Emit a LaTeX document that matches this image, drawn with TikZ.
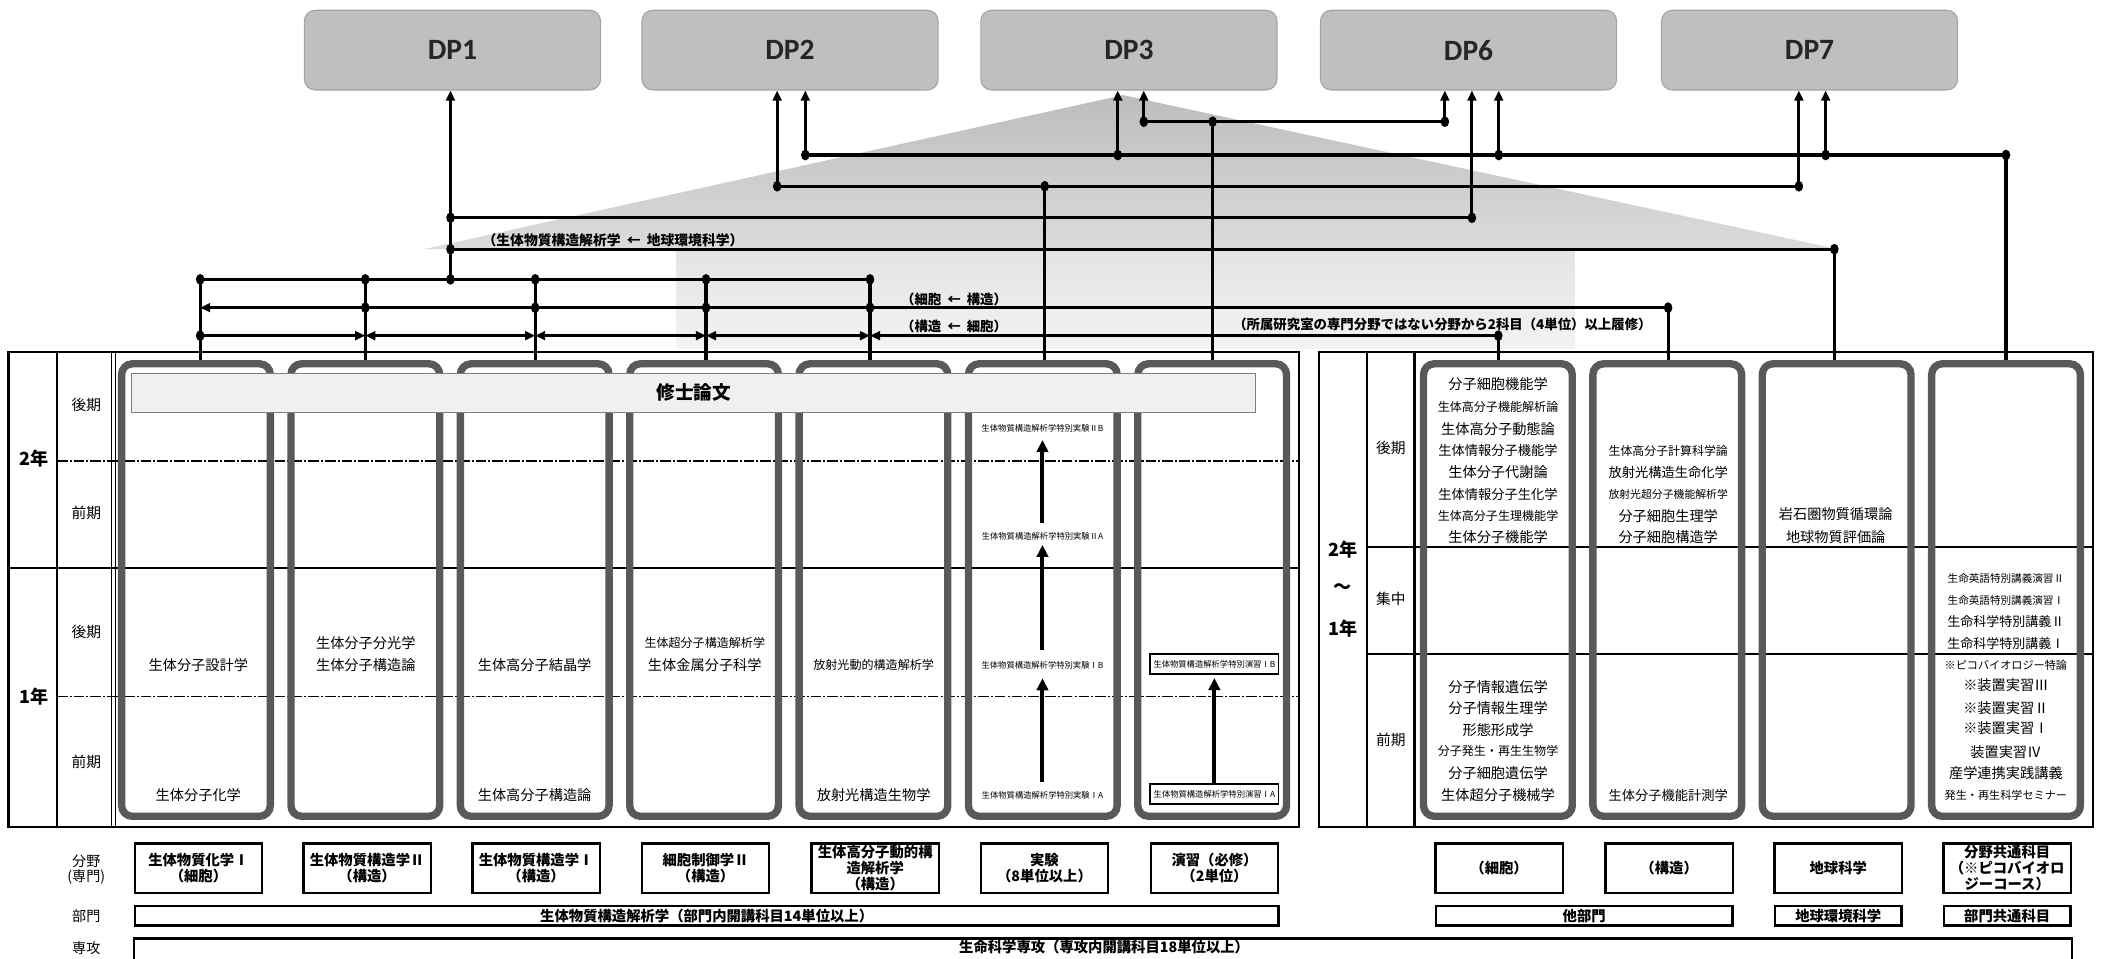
\documentclass[tikz,border=0pt]{standalone}
\usepackage{fontspec}
\setmainfont{Carlito}
\newfontfamily\jp{Noto Sans CJK JP}
\usetikzlibrary{arrows.meta}
\definecolor{dpgray}{HTML}{BFBFBF}
\definecolor{dpedge}{HTML}{A3A3A3}
\definecolor{colgray}{HTML}{595959}
\definecolor{barfill}{HTML}{F0F0F0}
\definecolor{baredge}{HTML}{7F7F7F}
\definecolor{triTop}{HTML}{BDBDBD}
\definecolor{triBot}{HTML}{DBDBDB}
\definecolor{recTop}{HTML}{E3E3E3}
\definecolor{recBot}{HTML}{F3F3F3}
\tikzset{
  dpbox/.style={rounded corners=8pt, fill=dpgray, draw=dpedge, line width=0.8pt,
    minimum width=221pt, minimum height=59.5pt, font=\fontsize{22}{24}\selectfont\bfseries, text=black!85},
  colbox/.style={draw=colgray, line width=5.5pt, rounded corners=8pt,
    minimum width=111pt, minimum height=337.7pt, inner sep=0pt},
  conn/.style={line width=2.3pt},
  ct/.style={font={\jp\fontsize{#1}{#1}\selectfont}, inner sep=0pt},
  ct/.default=10.6,
  bl/.style={font={\jp\bfseries\fontsize{#1}{12}\selectfont}, inner sep=0pt},
  bl/.default=10.7,
  sem/.style={font={\jp\fontsize{11}{12}\selectfont}, inner sep=0pt},
  yr/.style={font={\jp\bfseries\fontsize{13.5}{14}\selectfont}, inner sep=0pt},
  fbox/.style={draw, line width=1.8pt, minimum width=95pt, minimum height=37pt, inner sep=0pt,
    align=center, font={\jp\bfseries\fontsize{10.7}{12.1}\selectfont}},
  dbox/.style={draw, line width=1.8pt, minimum height=14.4pt, inner sep=0pt,
    font={\jp\bfseries\fontsize{10.7}{12}\selectfont}},
  exbox/.style={draw, line width=1.4pt, minimum width=95.7pt, minimum height=15pt, inner sep=0pt,
    font={\jp\fontsize{6.2}{7}\selectfont}},
  bigarr/.style={line width=3pt, -{Triangle[length=9pt,width=8.5pt]}},
  dashrow/.style={line width=1pt, dash pattern=on 8pt off 1.5pt on 1.5pt off 1.5pt},
  rowline/.style={line width=1.5pt},
  >={Triangle[length=7.5pt,width=6.5pt]}
}
\newcommand\jdot[1]{\fill (#1) ellipse [x radius=3.2pt, y radius=4pt];}
\newcommand\larr{\hspace{0.45em}←\hspace{0.45em}}
\begin{document}
\begin{tikzpicture}[x=1pt,y=-1pt]
\useasboundingbox (0,0) rectangle (1568,715);

% background house shape
\shade[top color=triTop,bottom color=triBot] (838,71) -- (1372,186) -- (316,186) -- cycle;
\shade[top color=recTop,bottom color=recBot] (504.8,186) rectangle (1175.4,260);

% DP boxes
\node[dpbox] (dp1) at (337.7,37.4) {DP1};
\node[dpbox] (dp2) at (589.6,37.4) {DP2};
\node[dpbox] (dp3) at (842.5,37.4) {DP3};
\node[dpbox] (dp6) at (1096,37.4) {DP6};
\node[dpbox] (dp7) at (1350.5,37.4) {DP7};

% left panel
\draw[line width=1.6pt] (6.3,262.5) rectangle (969.6,617);
\draw[rowline] (42.4,262.5) -- (42.4,617);
\draw[line width=0.8pt] (83.3,262.5) -- (83.3,617) (86.3,262.5) -- (86.3,617);
\draw[rowline] (6.3,424) -- (969.6,424);
\draw[dashrow] (42.4,344) -- (969.6,344) (42.4,520) -- (969.6,520);

% right panel
\draw[line width=1.6pt] (984.4,263) rectangle (1562,617.4);
\draw[rowline] (1020.2,263) -- (1020.2,617.4);
\draw[line width=2.4pt] (1055.5,263) -- (1055.5,617.4);
\draw[rowline] (1020.2,408) -- (1562,408) (1020.2,488) -- (1562,488);

% column boxes
\node[colbox] (c1) at (146.25,440.35) {};
\node[colbox] (c2) at (272.65,440.35) {};
\node[colbox] (c3) at (399.05,440.35) {};
\node[colbox] (c4) at (525.45,440.35) {};
\node[colbox] (c5) at (651.85,440.35) {};
\node[colbox] (c6) at (778.25,440.35) {};
\node[colbox] (c7) at (904.65,440.35) {};
\node[colbox] (r1) at (1117.9,440.35) {};
\node[colbox] (r2) at (1244.3,440.35) {};
\node[colbox] (r3) at (1370.7,440.35) {};
\node[colbox] (r4) at (1497.1,440.35) {};

% thesis bar
\node[draw=baredge, fill=barfill, line width=0.7pt, minimum width=838.9pt, minimum height=29.1pt,
  inner sep=0pt, font={\jp\bfseries\fontsize{13.9}{14}\selectfont}] (thesis) at (517.75,293.15) {修士論文};

% year / semester labels (left)
\node[yr] (ly2) at (25.1,342.6) {2年};
\node[yr] (ly1) at (25.1,520) {1年};
\node[sem] (ls1) at (64.4,302) {後期};
\node[sem] (ls2) at (64.4,383) {前期};
\node[sem] (ls3) at (64.4,471.4) {後期};
\node[sem] (ls4) at (64.4,568.4) {前期};
% right
\node[yr] (ry2) at (1002,410.5) {2年};
\node[yr] (ryt) at (1002,439) {～};
\node[yr] (ry1) at (1002,469) {1年};
\node[sem] (rs1) at (1038,334.6) {後期};
\node[sem] (rs2) at (1038,447.3) {集中};
\node[sem] (rs3) at (1038,552.3) {前期};

% left column courses
\node[ct] (t11) at (148,496.3) {生体分子設計学};
\node[ct] (t12) at (148,593.3) {生体分子化学};
\node[ct] (t21) at (273,480) {生体分子分光学};
\node[ct] (t22) at (273,496.3) {生体分子構造論};
\node[ct] (t31) at (399,496.3) {生体高分子結晶学};
\node[ct] (t32) at (399,593.3) {生体高分子構造論};
\node[ct=9] (t41) at (526,480) {生体超分子構造解析学};
\node[ct] (t42) at (526,496.3) {生体金属分子科学};
\node[ct=9] (t51) at (652,496.3) {放射光動的構造解析学};
\node[ct] (t52) at (652,593.3) {放射光構造生物学};

% experiments
\node[ct=6.2] (x1) at (778,593.3) {生体物質構造解析学特別実験ⅠA};
\node[ct=6.2] (x2) at (778,496.3) {生体物質構造解析学特別実験ⅠB};
\node[ct=6.2] (x3) at (778,400) {生体物質構造解析学特別実験ⅡA};
\node[ct=6.2] (x4) at (778,319.7) {生体物質構造解析学特別実験ⅡB};
\draw[bigarr, shorten <=6.9pt, shorten >=6.8pt] (x1.north) -- (x2.south);
\draw[bigarr, shorten <=8.2pt, shorten >=3.6pt] (x2.north) -- (x3.south);
\draw[bigarr, shorten <=6.3pt, shorten >=5.6pt] (x3.north) -- (x4.south);

% seminars
\node[exbox] (y1) at (906.3,592.7) {生体物質構造解析学特別演習ⅠA};
\node[exbox] (y2) at (906.3,495.8) {生体物質構造解析学特別演習ⅠB};
\draw[bigarr, shorten >=2pt] (y1.north) -- (y2.south);

% right column courses
\node[ct] (u11) at (1118,286.8) {分子細胞機能学};
\node[ct=9] (u12) at (1118,303.5) {生体高分子機能解析論};
\node[ct] (u13) at (1118,320.2) {生体高分子動態論};
\node[ct=9.9] (u14) at (1118,336.3) {生体情報分子機能学};
\node[ct] (u15) at (1118,352.5) {生体分子代謝論};
\node[ct=9.9] (u16) at (1118,368.7) {生体情報分子生化学};
\node[ct=9] (u17) at (1118,384.8) {生体高分子生理機能学};
\node[ct] (u18) at (1118,400.5) {生体分子機能学};
\node[ct] (u19) at (1118,512.5) {分子情報遺伝学};
\node[ct] (u1a) at (1118,528.6) {分子情報生理学};
\node[ct] (u1b) at (1118,544.8) {形態形成学};
\node[ct=9] (u1c) at (1118,560.5) {分子発生・再生生物学};
\node[ct] (u1d) at (1118,576.6) {分子細胞遺伝学};
\node[ct] (u1e) at (1118,593.3) {生体超分子機械学};

\node[ct=8.9] (u21) at (1245,336.3) {生体高分子計算科学論};
\node[ct=9.9] (u22) at (1245,352.5) {放射光構造生命化学};
\node[ct=8.1] (u23) at (1245,368.7) {放射光超分子機能解析学};
\node[ct] (u24) at (1245,384.8) {分子細胞生理学};
\node[ct] (u25) at (1245,400.5) {分子細胞構造学};
\node[ct=9.9] (u26) at (1245,593.3) {生体分子機能計測学};

\node[ct] (u31) at (1370,383.6) {岩石圏物質循環論};
\node[ct] (u32) at (1370,400.5) {地球物質評価論};

\node[ct=7.9] (u41) at (1497,431.6) {生命英語特別講義演習Ⅱ};
\node[ct=7.9] (u42) at (1497,447.8) {生命英語特別講義演習Ⅰ};
\node[ct=9.7] (u43) at (1497,464) {生命科学特別講義Ⅱ};
\node[ct=9.7] (u44) at (1497,480) {生命科学特別講義Ⅰ};
\node[ct=8.3] (u45) at (1497,496.3) {※ピコバイオロジー特論};
\node[ct] (u46) at (1497,511.2) {※装置実習Ⅲ};
\node[ct] (u47) at (1497,528.6) {※装置実習Ⅱ};
\node[ct] (u48) at (1497,543.6) {※装置実習Ⅰ};
\node[ct] (u49) at (1497,561) {装置実習Ⅳ};
\node[ct] (u4a) at (1497,577.1) {産学連携実践講義};
\node[ct=8.3] (u4b) at (1497,593.3) {発生・再生科学セミナー};

% bottom rows, left
\node[ct=10.5] (l1) at (64.4,643) {分野};
\node[ct=10.5] (l2) at (64.4,654.6) {(専門)};
\node[ct=10.5] (l3) at (64.4,683.6) {部門};
\node[ct=10.5] (l4) at (64.4,707.5) {専攻};

\node[fbox] (fa1) at (148.1,647.9) {生体物質化学Ⅰ\\（細胞）};
\node[fbox] (fa2) at (274,647.9) {生体物質構造学Ⅱ\\（構造）};
\node[fbox] (fa3) at (400.1,647.9) {生体物質構造学Ⅰ\\（構造）};
\node[fbox] (fa4) at (526.6,647.9) {細胞制御学Ⅱ\\（構造）};
\node[fbox] (fa5) at (653.2,647.9) {生体高分子動的構\\造解析学\\（構造）};
\node[fbox] (fa6) at (779.5,647.9) {実験\\（8単位以上）};
\node[fbox] (fa7) at (906.4,647.9) {演習（必修）\\（2単位）};
\node[dbox, minimum width=853.3pt] (da1) at (527.4,683.5) {生体物質構造解析学（部門内開講科目14単位以上）};

% bottom rows, right
\node[fbox] (fb1) at (1118.8,647.9) {（細胞）};
\node[fbox] (fb2) at (1245.7,647.9) {（構造）};
\node[fbox] (fb3) at (1371.9,647.9) {地球科学};
\node[fbox] (fb4) at (1498,647.9) {分野共通科目\\（※ピコバイオロ\\ジーコース）};
\node[dbox, minimum width=221.5pt] (db1) at (1182.3,683.5) {他部門};
\node[dbox, minimum width=94.5pt] (db2) at (1371.9,683.5) {地球環境科学};
\node[dbox, minimum width=94.7pt] (db3) at (1498,683.5) {部門共通科目};

% major
\draw[line width=1.8pt] (99.9,722) -- (99.9,700.3) -- (1546.3,700.3) -- (1546.3,722);
\node[bl] (sk1) at (824,707) {生命科学専攻（専攻内開講科目18単位以上）};

% connector labels
\node[bl=10.3] (la1) at (457.5,179) {（生体物質構造解析学\larr 地球環境科学）};
\node[bl=10] (la2) at (712,223.4) {（細胞\larr 構造）};
\node[bl=10] (la3) at (712,243.8) {（構造\larr 細胞）};
\node[bl=10] (la4) at (1076.5,242) {（所属研究室の専門分野ではない分野から2科目（4単位）以上履修）};

% junctions
\coordinate (pa1) at (853.6,90.8);
\coordinate (pa2) at (905,90.8);
\coordinate (pa3) at (1078.3,90.8);
\coordinate (pb1) at (601,115.7);
\coordinate (pb2) at (834.2,115.7);
\coordinate (pb3) at (1118.5,115.7);
\coordinate (pb4) at (1362.5,115.7);
\coordinate (pb5) at (1497.1,115.7);
\coordinate (pe1) at (580,139);
\coordinate (pe2) at (779.7,139);
\coordinate (pe3) at (1342.5,139);
\coordinate (pf1) at (336.2,162.5);
\coordinate (pf2) at (1098.5,162.5);
\coordinate (pg1) at (336.2,186);
\coordinate (pg2) at (1369,186);
\coordinate (ph1) at (149.4,208.5);
\coordinate (ph2) at (272.6,208.5);
\coordinate (ph3) at (336.2,208.5);
\coordinate (ph4) at (399.4,208.5);
\coordinate (ph5) at (526.9,208.5);
\coordinate (ph6) at (649.3,208.5);
\coordinate (pi1) at (149.4,229.6);
\coordinate (pi2) at (272.6,229.6);
\coordinate (pi3) at (399.4,229.6);
\coordinate (pi4) at (526.9,229.6);
\coordinate (pi5) at (649.3,229.6);
\coordinate (pi6) at (1244.9,229.6);
\coordinate (pk1) at (149.4,250.5);
\coordinate (pk2) at (272.6,250.5);
\coordinate (pk3) at (399.4,250.5);
\coordinate (pk4) at (526.9,250.5);
\coordinate (pk5) at (649.3,250.5);
\coordinate (pk6) at (1118.2,250.5);

% horizontal connectors
\draw[conn] (pa1) -- (pa3);
\draw[conn] (pb1) -- (pb5);
\draw[conn] (pe1) -- (pe3);
\draw[conn] (pf1) -- (pf2);
\draw[conn] (pg1) -- (pg2);
\draw[conn] (ph1) -- (ph6);
\draw[conn,<-] (pi1) -- (pi6);
\draw[conn,->] (pk1) -- (pk2);
\draw[conn,<->] (pk2) -- (pk3);
\draw[conn,<->] (pk3) -- (pk4);
\draw[conn,<->] (pk4) -- (pk5);
\draw[conn,<-] (pk5) -- (pk6);

% up to DPs
\draw[conn,->] (ph3) -- (ph3 |- dp1.south);
\draw[conn,->] (pe1) -- (pe1 |- dp2.south);
\draw[conn,->] (pb1) -- (pb1 |- dp2.south);
\draw[conn,->] (pb2) -- (pb2 |- dp3.south);
\draw[conn,->] (pa1) -- (pa1 |- dp3.south);
\draw[conn,->] (pa3) -- (pa3 |- dp6.south);
\draw[conn,->] (pf2) -- (pf2 |- dp6.south);
\draw[conn,->] (pb3) -- (pb3 |- dp6.south);
\draw[conn,->] (pe3) -- (pe3 |- dp7.south);
\draw[conn,->] (pb4) -- (pb4 |- dp7.south);

% down to columns
\draw[conn] (ph1) -- (ph1 |- c1.north);
\draw[conn] (ph2) -- (ph2 |- c2.north);
\draw[conn] (ph4) -- (ph4 |- c3.north);
\draw[conn] (ph5) -- (ph5 |- c4.north);
\draw[conn] (ph6) -- (ph6 |- c5.north);
\draw[conn] (pe2) -- (pe2 |- c6.north);
\draw[conn] (pa2) -- (pa2 |- c7.north);
\draw[conn] (pk6) -- (pk6 |- r1.north);
\draw[conn] (pi6) -- (pi6 |- r2.north);
\draw[conn] (pg2) -- (pg2 |- r3.north);
\draw[conn] (pb5) -- (pb5 |- r4.north);

% dots
\foreach \p in {pa1,pa2,pa3,pb1,pb2,pb3,pb4,pb5,pe1,pe2,pe3,pf1,pf2,pg1,pg2,
  ph1,ph2,ph3,ph4,ph5,ph6,pi2,pi3,pi4,pi5,pi6,pk1,pk6} {\jdot{\p}}
\end{tikzpicture}
\end{document}
